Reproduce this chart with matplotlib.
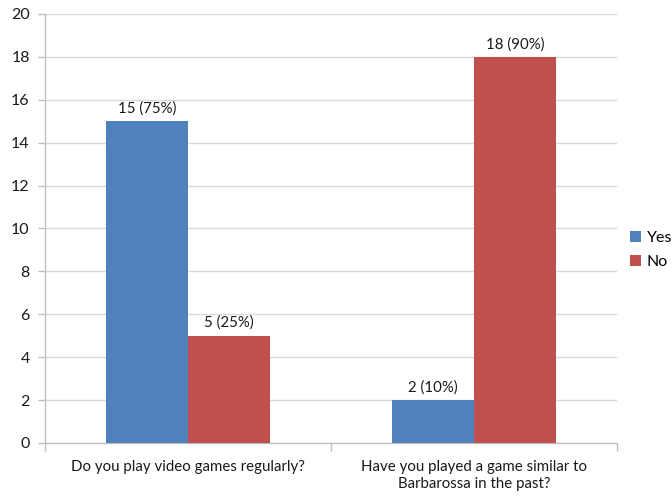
import numpy as np
import matplotlib
matplotlib.use('Agg')
from matplotlib import pyplot as plt

questions = ["Do you play video games regularly?",
             "Have you played a game similar to\nBarbarossa in the past?"]
yes_counts = [15, 2]
no_counts = [5, 18]
yes_pct = [75, 10]
no_pct = [25, 90]
y_ticks = [0, 2, 4, 6, 8, 10, 12, 14, 16, 18, 20]

plt.rcParams['font.family'] = ['Lato', 'DejaVu Sans']

BLUE = "#4F81BD"
RED = "#C0504D"
GRID = "#D9D9D9"
TXT = "#1a1a1a"

fig = plt.figure(figsize=(6.72, 4.97), dpi=100)
ax = fig.add_axes([45 / 672, 54 / 497, 572 / 672, 429 / 497])

x = np.arange(len(questions))
w = 1 / 3.5
b1 = ax.bar(x - w / 2, yes_counts, w, color=BLUE, label="Yes", zorder=3)
b2 = ax.bar(x + w / 2, no_counts, w, color=RED, label="No", zorder=3)

for bars, counts, pct in [(b1, yes_counts, yes_pct), (b2, no_counts, no_pct)]:
    for rect, c, p in zip(bars, counts, pct):
        ax.annotate(f"{c} ({p}%)", (rect.get_x() + rect.get_width() / 2, c),
                    xytext=(0, 4), textcoords="offset points",
                    ha="center", va="bottom", fontsize=10.8, color=TXT)

ax.set_xlim(-0.5, 1.5)
ax.set_ylim(0, 20)
ax.set_yticks(y_ticks)
ax.yaxis.grid(True, color=GRID, lw=1, zorder=0)
ax.set_axisbelow(True)

ax.set_xticks(x)
ax.set_xticklabels(questions, fontsize=10.8, color=TXT, linespacing=1.3)
ax.set_xticks([-0.5, 0.5, 1.5], minor=True)
ax.tick_params(axis="x", which="major", length=0, pad=12)
ax.tick_params(axis="x", which="minor", length=6, color="#BFBFBF", width=1)
ax.tick_params(axis="y", length=5, color="#BFBFBF", width=1, labelsize=11.5,
               labelcolor=TXT, pad=6)

for s in ["top", "right"]:
    ax.spines[s].set_visible(False)
for s in ["left", "bottom"]:
    ax.spines[s].set_color("#BFBFBF")
    ax.spines[s].set_linewidth(1)

fig.legend(handles=[b1, b2], labels=["Yes", "No"], loc="center left",
           bbox_to_anchor=(630 / 672, 1 - 250 / 497), frameon=False,
           fontsize=11.5, handlelength=0.7, handleheight=0.7, handletextpad=0.35,
           labelspacing=0.6, borderaxespad=0, borderpad=0)

fig.savefig("out.png", dpi=100)
